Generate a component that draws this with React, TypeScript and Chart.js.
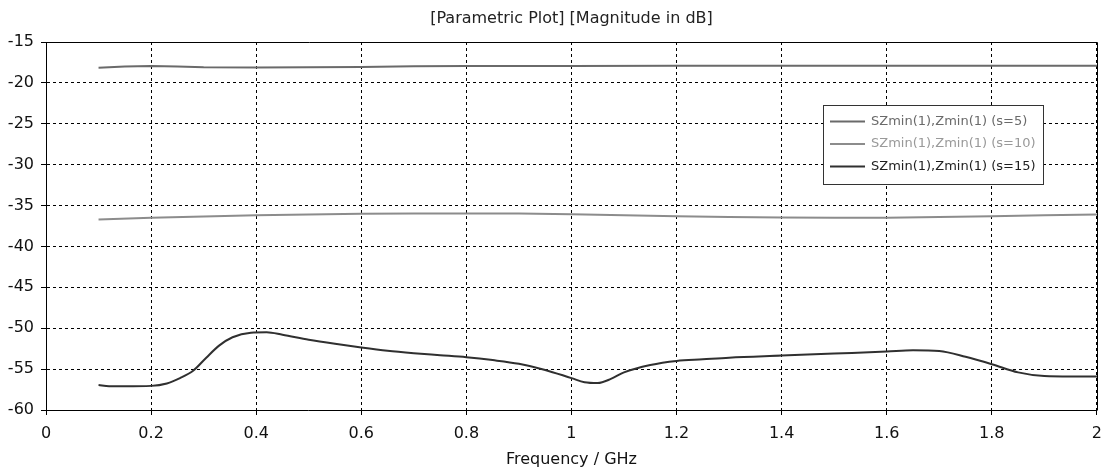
import { useEffect, useRef } from "react";
import { Chart, registerables } from "chart.js";

Chart.register(...registerables);

const FONT = "'DejaVu Sans', Verdana, sans-serif";

const chartTitle = "[Parametric Plot] [Magnitude in dB]";
const xAxisTitle = "Frequency / GHz";

const xTickValues = [0, 0.2, 0.4, 0.6, 0.8, 1, 1.2, 1.4, 1.6, 1.8, 2];
const xTickLabels = ["0", "0.2", "0.4", "0.6", "0.8", "1", "1.2", "1.4", "1.6", "1.8", "2"];
const yTickValues = [-60, -55, -50, -45, -40, -35, -30, -25, -20, -15];
const yTickLabels = ["-60", "-55", "-50", "-45", "-40", "-35", "-30", "-25", "-20", "-15"];

const seriesLabels = [
  "SZmin(1),Zmin(1) (s=5)",
  "SZmin(1),Zmin(1) (s=10)",
  "SZmin(1),Zmin(1) (s=15)",
];
const seriesColors = ["#6a6a6a", "#8c8c8c", "#303030"];
const legendTextColors = ["#6a6a6a", "#999999", "#1e1e1e"];

const freqS5 = [0.1, 0.15, 0.2, 0.25, 0.3, 0.4, 0.5, 0.6, 0.7, 0.8, 1.0, 1.2, 1.4, 1.6, 1.8, 2.0];
const magS5 = [-18.15, -18.0, -17.95, -18.0, -18.1, -18.12, -18.1, -18.05, -17.98, -17.95, -17.92, -17.9, -17.9, -17.9, -17.9, -17.9];

const freqS10 = [0.1, 0.2, 0.3, 0.4, 0.5, 0.6, 0.7, 0.8, 0.9, 1.0, 1.1, 1.2, 1.3, 1.4, 1.5, 1.6, 1.7, 1.8, 1.9, 2.0];
const magS10 = [-36.7, -36.5, -36.35, -36.2, -36.1, -36.0, -35.98, -35.97, -35.98, -36.05, -36.2, -36.3, -36.4, -36.45, -36.5, -36.48, -36.4, -36.3, -36.2, -36.1];

const freqS15 = [
  0.1, 0.12, 0.15, 0.2, 0.23, 0.255, 0.28, 0.305, 0.33, 0.355, 0.39, 0.42, 0.45, 0.5, 0.55, 0.6,
  0.65, 0.7, 0.75, 0.8, 0.85, 0.9, 0.95, 1.0, 1.025, 1.05, 1.075, 1.1, 1.15, 1.2, 1.25, 1.3,
  1.4, 1.5, 1.6, 1.65, 1.7, 1.75, 1.8, 1.85, 1.9, 1.95, 2.0,
];
const magS15 = [
  -56.95, -57.1, -57.1, -57.05, -56.75, -56.1, -55.2, -53.6, -52.1, -51.1, -50.55, -50.5, -50.8, -51.4, -51.9, -52.35,
  -52.75, -53.05, -53.3, -53.55, -53.9, -54.35, -55.1, -56.1, -56.6, -56.7, -56.2, -55.4, -54.5, -54.0, -53.8, -53.6,
  -53.35, -53.1, -52.85, -52.7, -52.8, -53.5, -54.4, -55.4, -55.85, -55.9, -55.9,
];

const toPoints = (xs: number[], ys: number[]) => xs.map((x, i) => ({ x, y: ys[i] }));

const framePlugin = {
  id: "frame",
  beforeDatasetsDraw(chart: any) {
    const { ctx, chartArea } = chart;
    ctx.save();
    ctx.strokeStyle = "#000";
    ctx.lineWidth = 1;
    ctx.setLineDash([]);
    ctx.beginPath();
    ctx.moveTo(Math.round(chartArea.left) + 0.5, Math.round(chartArea.top) + 0.5);
    ctx.lineTo(Math.round(chartArea.right) + 0.5, Math.round(chartArea.top) + 0.5);
    ctx.lineTo(Math.round(chartArea.right) + 0.5, Math.round(chartArea.bottom) + 0.5);
    ctx.stroke();
    ctx.restore();
  },
};

const legendPlugin = {
  id: "insideLegend",
  afterDatasetsDraw(chart: any) {
    const { ctx } = chart;
    const bx = 823;
    const by = 105;
    const bw = 220;
    const bh = 79;
    ctx.save();
    ctx.fillStyle = "#fff";
    ctx.fillRect(bx, by, bw, bh);
    ctx.strokeStyle = "#333";
    ctx.lineWidth = 1;
    ctx.setLineDash([]);
    ctx.strokeRect(bx + 0.5, by + 0.5, bw, bh);
    ctx.font = `13px ${FONT}`;
    ctx.textBaseline = "middle";
    ctx.textAlign = "left";
    chart.data.datasets.forEach((ds: any, i: number) => {
      const y = 121.5 + i * 22.5;
      ctx.strokeStyle = ds.borderColor;
      ctx.lineWidth = 2;
      ctx.beginPath();
      ctx.moveTo(830, y);
      ctx.lineTo(865, y);
      ctx.stroke();
      ctx.fillStyle = legendTextColors[i];
      ctx.fillText(ds.label, 871, y);
    });
    ctx.restore();
  },
};

export default function App() {
  const ref = useRef<HTMLCanvasElement | null>(null);

  useEffect(() => {
    if (!ref.current) return;
    const chart = new Chart(ref.current, {
      type: "line",
      data: {
        datasets: [
          {
            label: seriesLabels[0],
            data: toPoints(freqS5, magS5),
            borderColor: seriesColors[0],
            borderWidth: 2,
            pointRadius: 0,
            tension: 0,
          },
          {
            label: seriesLabels[1],
            data: toPoints(freqS10, magS10),
            borderColor: seriesColors[1],
            borderWidth: 2,
            pointRadius: 0,
            tension: 0,
          },
          {
            label: seriesLabels[2],
            data: toPoints(freqS15, magS15),
            borderColor: seriesColors[2],
            borderWidth: 2,
            pointRadius: 0,
            cubicInterpolationMode: "monotone",
          },
        ],
      },
      options: {
        responsive: false,
        animation: false,
        events: [],
        layout: { padding: { right: 13, left: 0, top: 0, bottom: 0 } },
        plugins: {
          legend: { display: false },
          tooltip: { enabled: false },
          title: {
            display: true,
            text: chartTitle,
            fullSize: false,
            color: "#222",
            font: { family: FONT, size: 16, weight: "normal" },
            padding: { top: 9, bottom: 13.8 },
          },
        },
        scales: {
          x: {
            type: "linear",
            min: 0,
            max: 2,
            afterBuildTicks: (s: any) => {
              s.ticks = xTickValues.map((v) => ({ value: v }));
            },
            afterFit: (s: any) => {
              s.height = 62;
            },
            ticks: {
              autoSkip: false,
              maxRotation: 0,
              color: "#111",
              padding: 9,
              font: { family: FONT, size: 16 },
              callback: (_v: any, i: number) => xTickLabels[i],
            },
            grid: {
              color: "#000",
              lineWidth: 1,
              tickLength: 5,
              tickColor: "#000",
              tickBorderDash: [],
            },
            border: { display: true, color: "#000", width: 1, dash: [3, 3] },
            title: {
              display: true,
              text: xAxisTitle,
              color: "#111",
              font: { family: FONT, size: 16 },
              padding: { top: 0, bottom: 3 },
            },
          },
          y: {
            type: "linear",
            min: -60,
            max: -15,
            afterBuildTicks: (s: any) => {
              s.ticks = yTickValues.map((v) => ({ value: v }));
            },
            afterFit: (s: any) => {
              s.width = 46;
            },
            ticks: {
              color: "#111",
              padding: 7,
              font: { family: FONT, size: 16 },
              callback: (_v: any, i: number) => yTickLabels[i],
            },
            grid: {
              color: "#000",
              lineWidth: 1,
              tickLength: 5,
              tickColor: "#000",
              tickBorderDash: [],
            },
            border: { display: true, color: "#000", width: 1, dash: [3, 3] },
          },
        },
      },
      plugins: [framePlugin, legendPlugin],
    } as any);
    return () => chart.destroy();
  }, []);

  return (
    <div style={{ position: "absolute", left: 0, top: 0, width: 1111, height: 472, background: "#fff" }}>
      <canvas ref={ref} width={1111} height={472} style={{ display: "block", width: 1111, height: 472 }} />
    </div>
  );
}
